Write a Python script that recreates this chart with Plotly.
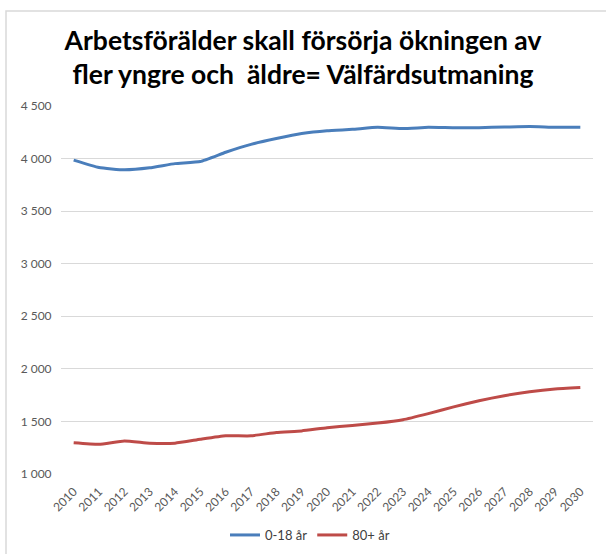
import plotly.graph_objects as go

years = [str(y) for y in range(2010, 2031)]
age_0_18 = [3985, 3915, 3893, 3912, 3952, 3972, 4060, 4135, 4190, 4238, 4265, 4278, 4298, 4285, 4297, 4293, 4294, 4300, 4306, 4298, 4298]
age_80 = [1297, 1282, 1315, 1293, 1293, 1330, 1363, 1363, 1395, 1410, 1440, 1462, 1484, 1516, 1574, 1638, 1697, 1745, 1783, 1809, 1822]
y_ticks = [1000, 1500, 2000, 2500, 3000, 3500, 4000, 4500]
y_tick_text = ["1 000", "1 500", "2 000", "2 500", "3 000", "3 500", "4 000", "4 500"]

W, H = 606, 554
L, R, T, B = 61, 13, 106, 80
pw, ph = W - L - R, H - T - B

fig = go.Figure()
fig.add_trace(go.Scatter(x=years, y=age_0_18, mode="lines", name="0-18 år",
                         line=dict(color="#4A7EBB", width=3, shape="spline", smoothing=0.4)))
fig.add_trace(go.Scatter(x=years, y=age_80, mode="lines", name="80+ år",
                         line=dict(color="#BE4B48", width=3, shape="spline", smoothing=0.4)))

def px_x(x):
    return (x - L) / pw

def px_y(y):
    return 1 - (y - T) / ph

fig.update_layout(
    width=W, height=H,
    margin=dict(l=L, r=R, t=T, b=B, autoexpand=False),
    paper_bgcolor="white", plot_bgcolor="white",
    font=dict(family="Lato, Open Sans, sans-serif", color="#595959", size=12),
    title=dict(
        text="Arbetsförälder skall försörja ökningen av<br>fler yngre och  äldre= Välfärdsutmaning",
        x=303 / W, xanchor="center", y=1 - 50 / H, yanchor="top",
        font=dict(family="Lato, sans-serif", size=26.5, color="#000000", weight="bold"),
        automargin=False,
    ),
    xaxis=dict(type="category", range=[-0.5, 20.5], tickangle=-45, showgrid=False,
               showline=False, ticks="outside", ticklen=5, tickcolor="rgba(0,0,0,0)",
               automargin=False, tickfont=dict(size=12, color="#595959")),
    yaxis=dict(range=[1000, 4500], tickvals=y_ticks, ticktext=y_tick_text,
               showgrid=True, gridcolor="#D9D9D9", gridwidth=1, zeroline=False,
               showline=False, ticks="outside", ticklen=6, tickcolor="rgba(0,0,0,0)",
               automargin=False, tickfont=dict(size=12, color="#595959")),
    legend=dict(orientation="h", x=px_x(310), xanchor="center", y=px_y(535), yanchor="middle",
                font=dict(size=13, color="#404040"), itemwidth=30),
    shapes=[dict(type="rect", xref="paper", yref="paper",
                 x0=px_x(6), x1=px_x(620), y0=px_y(570), y1=px_y(11),
                 line=dict(color="#D9D9D9", width=1.5), layer="below")],
)

fig.write_html("out.html", config={"displayModeBar": False},
               post_script="document.body.style.margin='0';")
